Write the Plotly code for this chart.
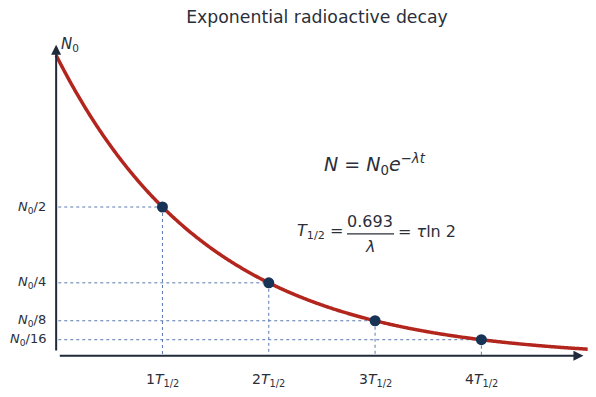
import numpy as np
import plotly.graph_objects as go

# ---- data ----
half_lives = [1, 2, 3, 4]
fractions = [0.5, 0.25, 0.125, 0.0625]
x_tick_labels = ["1<i>T</i><sub>1/2</sub>", "2<i>T</i><sub>1/2</sub>",
                 "3<i>T</i><sub>1/2</sub>", "4<i>T</i><sub>1/2</sub>"]
y_tick_labels = ["<i>N</i><sub>0</sub>/2", "<i>N</i><sub>0</sub>/4",
                 "<i>N</i><sub>0</sub>/8", "<i>N</i><sub>0</sub>/16"]
t_max = 5.0
t_curve = np.linspace(0, t_max, 600)
n_curve = 0.5 ** t_curve  # N/N0 in units of half-lives

FONT = "DejaVu Sans"
AX = "#1f2a3a"
TXT = "#2a2f3a"
GUIDE = "#5a78b0"

fig = go.Figure()

# guide lines
for hx, fy in zip(half_lives, fractions):
    fig.add_trace(go.Scatter(x=[0.02, hx], y=[fy, fy], mode="lines",
                             line=dict(color=GUIDE, width=1, dash="dot"),
                             hoverinfo="skip", showlegend=False))
    fig.add_trace(go.Scatter(x=[hx, hx], y=[fy, 0.012], mode="lines",
                             line=dict(color=GUIDE, width=1, dash="dot"),
                             hoverinfo="skip", showlegend=False))

# decay curve
fig.add_trace(go.Scatter(x=t_curve, y=n_curve, mode="lines",
                         line=dict(color="#b3261e", width=3.5, simplify=False),
                         showlegend=False))
# points
fig.add_trace(go.Scatter(x=half_lives, y=fractions, mode="markers",
                         marker=dict(color="#173456", size=11),
                         showlegend=False, cliponaxis=False))

# axes with arrows
fig.add_annotation(x=0, y=1.035, ax=0, ay=0.022, xref="x", yref="y",
                   axref="x", ayref="y", showarrow=True, arrowhead=2,
                   arrowsize=1, arrowwidth=2, arrowcolor=AX, text="")
fig.add_annotation(x=4.96, y=0.0095, ax=0.02, ay=0.0095, xref="x", yref="y",
                   axref="x", ayref="y", showarrow=True, arrowhead=2,
                   arrowsize=1, arrowwidth=2, arrowcolor=AX, text="")

# tick labels
for hx, lab in zip(half_lives, x_tick_labels):
    fig.add_annotation(x=hx, y=-0.07, xref="x", yref="y", text=lab,
                       showarrow=False, font=dict(family=FONT, size=14, color=TXT))
for fy, lab in zip(fractions, y_tick_labels):
    fig.add_annotation(x=-0.08, y=fy, xref="x", yref="y", text=lab,
                       xanchor="right", showarrow=False,
                       font=dict(family=FONT, size=13, color=TXT))

# N0 label
fig.add_annotation(x=0.03, y=1.035, xref="x", yref="y",
                   text="<i>N</i><sub>0</sub>", xanchor="left", showarrow=False,
                   font=dict(family=FONT, size=15, color=TXT))

# formulas (positions in pixels converted to data coords)
def dx(px):
    return (px - 56.15) / 106.3

def dy(py):
    return (358.7 - py) / 303.3

fig.add_annotation(x=dx(375), y=dy(165), xref="x", yref="y",
                   text="<i>N</i> = <i>N</i><sub>0</sub><i>e</i><sup>−<i>λt</i></sup>",
                   showarrow=False, font=dict(family=FONT, size=19, color=TXT))
fig.add_annotation(x=dx(345), y=dy(232), xref="x", yref="y",
                   text="<i>T</i><sub>1/2</sub> =", xanchor="right",
                   showarrow=False, font=dict(family=FONT, size=16, color=TXT))
fig.add_annotation(x=dx(370), y=dy(233), xref="x", yref="y",
                   text="0.693", showarrow=False, yanchor="bottom",
                   font=dict(family=FONT, size=16, color=TXT))
fig.add_annotation(x=dx(370), y=dy(235), xref="x", yref="y",
                   text="<i>λ</i>", showarrow=False, yanchor="top",
                   font=dict(family=FONT, size=16, color=TXT))
fig.add_shape(type="line", x0=dx(347), x1=dx(394), y0=dy(234), y1=dy(234),
              xref="x", yref="y", line=dict(color=TXT, width=1.2))
fig.add_annotation(x=dx(396), y=dy(232), xref="x", yref="y",
                   text="= <i>τ</i>ln 2", xanchor="left",
                   showarrow=False, font=dict(family=FONT, size=16, color=TXT))

fig.update_layout(
    width=596, height=397,
    margin=dict(l=3, r=3, t=25, b=8),
    paper_bgcolor="white", plot_bgcolor="white",
    title=dict(text="Exponential radioactive decay", x=317 / 596, xanchor="center",
               y=1 - 17 / 397, yanchor="middle", yref="container",
               font=dict(family=FONT, size=17.3, color=TXT)),
    xaxis=dict(range=[-0.5, 5.05], visible=False, fixedrange=True),
    yaxis=dict(range=[-0.1, 1.1], visible=False, fixedrange=True),
    showlegend=False,
)

fig.write_html("out.html")
